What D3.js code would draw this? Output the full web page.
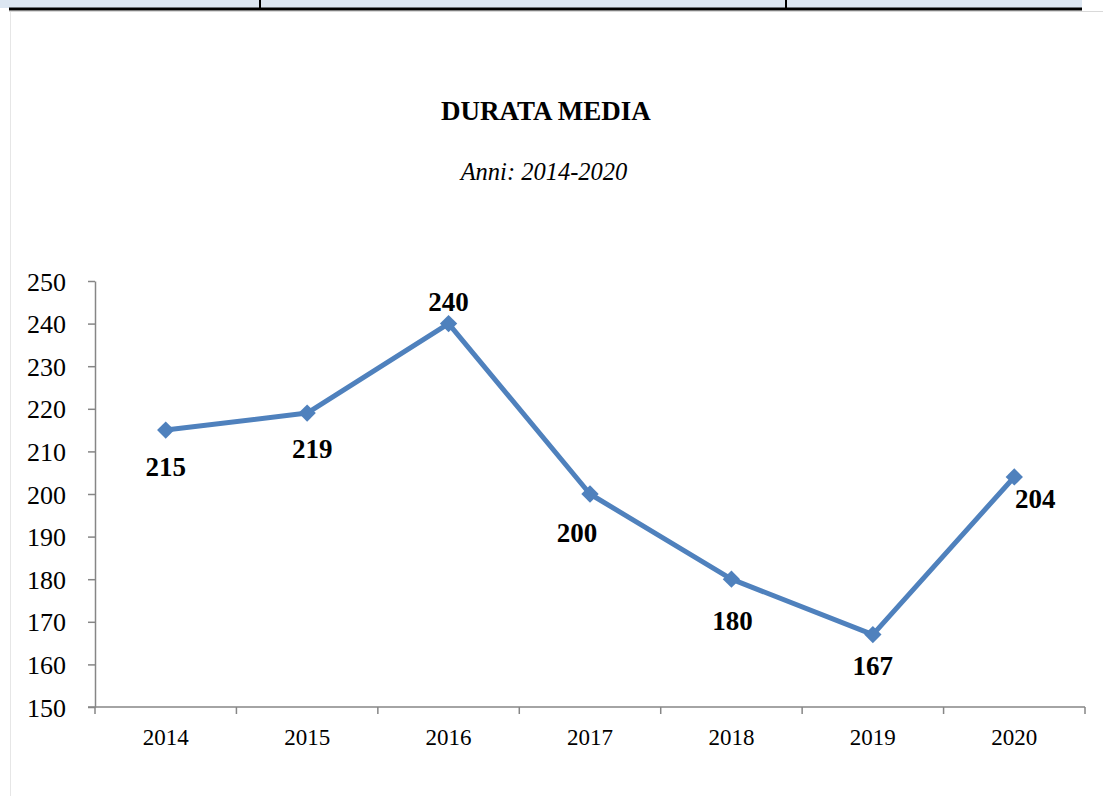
<!DOCTYPE html>
<html lang="it">
<head>
  <meta charset="UTF-8">
  <title>Durata media</title>
  <script src="https://d3js.org/d3.v7.min.js"></script>
  <style>
    body { margin: 0; background: #fff; }
    svg { display: block; }
    text { font-family: "Liberation Serif", "Times New Roman", serif; fill: #000; }
    .tick text { font-size: 26px; }
    .axis path, .axis line { stroke: #868686; stroke-width: 1.5; }
    .title { font-size: 27px; font-weight: bold; }
    .subtitle { font-size: 24.5px; font-style: italic; }
    .lbl { font-size: 27px; font-weight: bold; }
  </style>
</head>
<body>
  <svg width="1103" height="796"></svg>
  <script>
    const years = ['2014', '2015', '2016', '2017', '2018', '2019', '2020'];
    const durata = [215, 219, 240, 200, 180, 167, 204];
    const yTicks = [150, 160, 170, 180, 190, 200, 210, 220, 230, 240, 250];

    // where each value label sits relative to its point (dx, dy)
    const labelShift = [[0, 46], [5, 45], [0, -13], [-13, 48], [1, 51], [0, 40], [21, 31]];

    const svg = d3.select('svg');

    // bit of the table above the chart
    svg.append('rect').attr('x', 0).attr('y', 0).attr('width', 1082).attr('height', 8).attr('fill', '#dce6f1');
    svg.append('line').attr('x1', 260).attr('x2', 260).attr('y1', 0).attr('y2', 9).attr('stroke', '#000').attr('stroke-width', 2);
    svg.append('line').attr('x1', 786).attr('x2', 786).attr('y1', 0).attr('y2', 9).attr('stroke', '#000').attr('stroke-width', 2);
    svg.append('line').attr('x1', 9).attr('x2', 1103).attr('y1', 11.5).attr('y2', 11.5).attr('stroke', '#d9d9d9').attr('stroke-width', 1);
    svg.append('line').attr('x1', 9).attr('x2', 1082).attr('y1', 9).attr('y2', 9).attr('stroke', '#000').attr('stroke-width', 3);
    svg.append('line').attr('x1', 10.5).attr('x2', 10.5).attr('y1', 12).attr('y2', 796).attr('stroke', '#e6e6e6').attr('stroke-width', 1);

    const x = d3.scaleBand().domain(years).range([95, 1085]);
    const y = d3.scaleLinear().domain([150, 250]).range([707, 281]);

    svg.append('text').attr('class', 'title')
      .attr('x', 546).attr('y', 120).attr('text-anchor', 'middle')
      .text('DURATA MEDIA');
    svg.append('text').attr('class', 'subtitle')
      .attr('x', 544).attr('y', 180).attr('text-anchor', 'middle')
      .text('Anni: 2014-2020');

    const yAxis = svg.append('g').attr('class', 'axis')
      .attr('transform', 'translate(95,0)')
      .call(d3.axisLeft(y).tickValues(yTicks).tickSize(7).tickSizeOuter(0).tickPadding(22));
    yAxis.selectAll('.tick text').attr('dy', '0.35em');

    // x axis: ticks sit on the category boundaries
    const xAxis = svg.append('g').attr('class', 'axis')
      .attr('transform', 'translate(0,707)');
    xAxis.append('line').attr('x1', 88).attr('x2', 1085).attr('y1', 0).attr('y2', 0);
    xAxis.selectAll('.bnd').data(years.concat(['end']))
      .enter().append('line')
      .attr('x1', (d, i) => i < years.length ? x(d) : x.range()[1])
      .attr('x2', (d, i) => i < years.length ? x(d) : x.range()[1])
      .attr('y1', 0).attr('y2', 7);
    xAxis.selectAll('.xl').data(years)
      .enter().append('text')
      .attr('class', 'xl')
      .attr('x', d => x(d) + x.bandwidth() / 2)
      .attr('y', 38)
      .attr('text-anchor', 'middle')
      .style('font-size', '23px')
      .text(d => d);

    const pts = years.map((d, i) => ({ year: d, v: durata[i], i: i }));
    const cx = d => x(d.year) + x.bandwidth() / 2;

    const line = d3.line().x(cx).y(d => y(d.v));

    svg.append('path').datum(pts)
      .attr('d', line)
      .attr('fill', 'none')
      .attr('stroke', '#4f81bd')
      .attr('stroke-width', 5)
      .attr('stroke-linejoin', 'round');

    svg.selectAll('.mark').data(pts)
      .enter().append('path')
      .attr('class', 'mark')
      .attr('d', d3.symbol().type(d3.symbolSquare).size(150))
      .attr('transform', d => `translate(${cx(d)},${y(d.v)}) rotate(45)`)
      .attr('fill', '#4f81bd');

    svg.selectAll('.lbl').data(pts)
      .enter().append('text')
      .attr('class', 'lbl')
      .attr('x', d => cx(d) + labelShift[d.i][0])
      .attr('y', d => y(d.v) + labelShift[d.i][1])
      .attr('text-anchor', 'middle')
      .text(d => d.v);
  </script>
</body>
</html>
